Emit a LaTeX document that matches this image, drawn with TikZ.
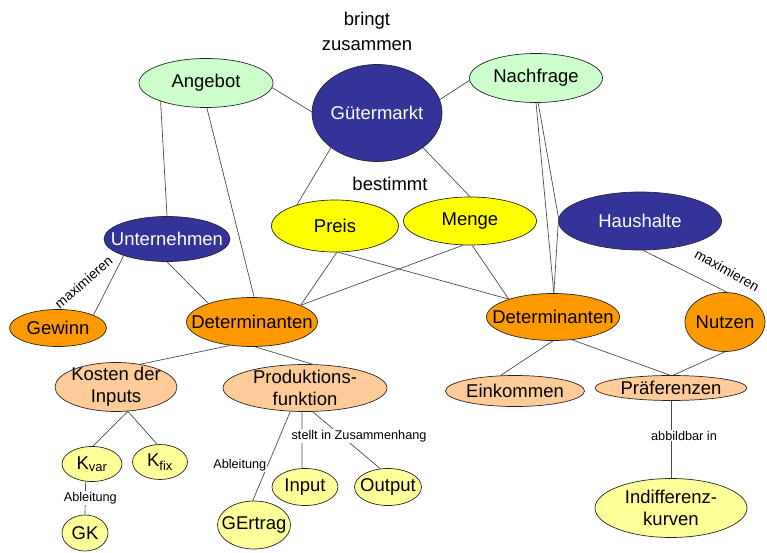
\documentclass[tikz,border=0pt]{standalone}
\usepackage{fontspec}
\setmainfont{Liberation Sans}
\usetikzlibrary{positioning,shapes.geometric}

\definecolor{paleGreen}{HTML}{CCFFCC}
\definecolor{navyBlue}{HTML}{333399}
\definecolor{brightYellow}{HTML}{FFFF00}
\definecolor{paleYellow}{HTML}{FFFF99}
\definecolor{deepOrange}{HTML}{FF9900}
\definecolor{peach}{HTML}{FFCC99}

\begin{document}
\begin{tikzpicture}[x=1pt, y=-1pt, line width=0.7pt,
    concept/.style={ellipse, draw=black!85, inner xsep=-20pt, inner ysep=-10pt, align=center, font=\fontsize{18.5}{22}\selectfont},
    greenbox/.style={concept, fill=paleGreen},
    bluebox/.style={concept, fill=navyBlue, text=white},
    yellowbox/.style={concept, fill=brightYellow},
    orangebox/.style={concept, fill=deepOrange},
    peachbox/.style={concept, fill=peach},
    paleybox/.style={concept, fill=paleYellow},
    link/.style={draw=black!70, line width=0.7pt},
    lbl/.style={align=center, font=\fontsize{18.5}{25}\selectfont},
    smalllbl/.style={inner sep=1pt, font=\fontsize{12.7}{14}\selectfont},
    maxlbl/.style={inner sep=0pt, font=\fontsize{13.8}{15}\selectfont}]
    \useasboundingbox (0,0) rectangle (767,553);

    % market level
    \node[greenbox, minimum width=134pt, minimum height=49pt] (angebot) at (206,83) {Angebot};
    \node[bluebox, minimum width=130pt, minimum height=97pt] (markt) at (377,113) {Gütermarkt};
    \node[greenbox, minimum width=133pt, minimum height=49pt] (nachfrage) at (536,78) {Nachfrage};
    \node[lbl] (bringt) at (367,31) {bringt\\zusammen};
    \node[lbl] (bestimmt) at (390,184) {bestimmt};

    \node[yellowbox, minimum width=127pt, minimum height=52pt] (preis) at (335,226) {Preis};
    \node[yellowbox, minimum width=133pt, minimum height=48pt] (menge) at (470,221) {Menge};
    \node[bluebox, minimum width=126pt, minimum height=45pt] (unternehmen) at (167,239) {Unternehmen};
    \node[bluebox, minimum width=163pt, minimum height=58pt] (haushalte) at (640,221) {Haushalte};

    % determinants
    \node[orangebox, minimum width=97pt, minimum height=37pt] (gewinn) at (58,328) {Gewinn};
    \node[orangebox, minimum width=131pt, minimum height=49pt] (detU) at (252,322) {Determinanten};
    \node[orangebox, minimum width=133pt, minimum height=47pt] (detH) at (553,317) {Determinanten};
    \node[orangebox, minimum width=80pt, minimum height=59pt] (nutzen) at (725,322) {Nutzen};

    \node[peachbox, minimum width=122pt, minimum height=49pt] (kosten) at (116,387) {Kosten der\\Inputs};
    \node[peachbox, minimum width=164pt, minimum height=47pt] (prod) at (305,388) {Produktions-\\funktion};
    \node[peachbox, minimum width=139pt, minimum height=31pt] (einkommen) at (515,391) {Einkommen};
    \node[peachbox, minimum width=152pt, minimum height=25pt] (praef) at (671,388) {Präferenzen};

    % bottom row
    \node[paleybox, minimum width=60pt, minimum height=35pt] (kvar) at (92,464) {K\textsubscript{var}};
    \node[paleybox, minimum width=55pt, minimum height=35pt] (kfix) at (160,462) {K\textsubscript{fix}};
    \node[paleybox, minimum width=46pt, minimum height=36pt] (gk) at (85,533) {GK};
    \node[paleybox, minimum width=73pt, minimum height=48pt] (gertrag) at (254,525) {GErtrag};
    \node[paleybox, minimum width=66pt, minimum height=37pt] (input) at (305,487) {Input};
    \node[paleybox, minimum width=67pt, minimum height=37pt] (output) at (388,487) {Output};
    \node[paleybox, minimum width=152pt, minimum height=59pt] (indiff) at (671,508) {Indifferenz-\\kurven};

    \draw[link] (angebot.-4) -- (markt.179);
    \draw[link] (markt.12) -- (nachfrage.182);
    \draw[link] (markt.217) -- (preis.151);
    \draw[link] (markt.323) -- (menge.90);
    \draw[link] (angebot.202) -- (unternehmen.90);
    \draw[link] (angebot.272) -- (detU.85);
    \draw[link] (unternehmen.270) -- (detU.157);
    \draw[link] (unternehmen.201) -- (gewinn.20)
        node[maxlbl, midway, xshift=-25pt, yshift=3pt, rotate=41] (maxU) {maximieren};
    \draw[link] (preis.274) -- (detU.19);
    \draw[link] (menge.254) -- (detU.19);
    \draw[link] (preis.277) -- (detH.158);
    \draw[link] (menge.275) -- (detH.158);
    \draw[link] (nachfrage.270) -- (detH.88);
    \draw[link] (nachfrage.275) -- (haushalte.178);
    \draw[link] (haushalte.178) -- (detH.88);
    \draw[link] (haushalte.276) -- (nutzen.86)
        node[maxlbl, midway, xshift=42pt, yshift=1pt, rotate=-29] (maxH) {maximieren};

    \draw[link] (detU.227) -- (kosten.43);
    \draw[link] (detU.277) -- (prod.72);
    \draw[link] (kosten.296) -- (kvar.87);
    \draw[link] (kosten.296) -- (kfix.99);
    \draw[link] (kvar.250) -- (gk.90)
        node[smalllbl, midway, fill=white, xshift=5pt] (ablK) {Ableitung};
    \draw[link] (prod.288) -- (output.113);
    \draw[link] (prod.263) -- (input.99)
        node[smalllbl, pos=0.43, fill=white, xshift=57pt] (zusammenhang) {stellt in Zusammenhang};
    \draw[link] (prod.238) -- (gertrag.93)
        node[smalllbl, pos=0.6, fill=white, xshift=-28pt] (ablP) {Ableitung};

    \draw[link] (detH.270) -- (einkommen.133);
    \draw[link] (detH.310) -- (praef.95);
    \draw[link] (nutzen.270) -- (praef.80);
    \draw[link] (praef.south) -- (indiff.north)
        node[smalllbl, midway, fill=white, xshift=13pt, yshift=4pt] (abb) {abbildbar in};
\end{tikzpicture}
\end{document}
